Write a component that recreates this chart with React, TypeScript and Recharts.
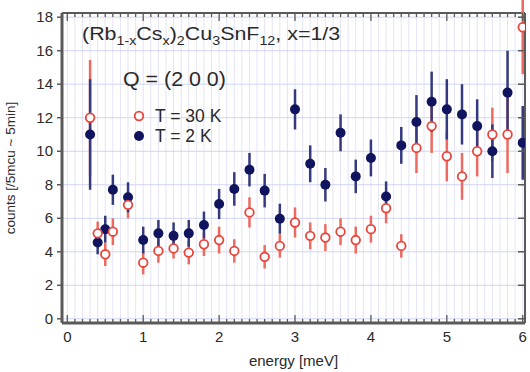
import { ScatterChart, Scatter, XAxis, YAxis, CartesianGrid, ErrorBar, ReferenceLine } from 'recharts';

// energies [meV], same for both temperatures
const energies = [0.3, 0.4, 0.5, 0.6, 0.8, 1.0, 1.2, 1.4, 1.6, 1.8, 2.0, 2.2, 2.4, 2.6, 2.8, 3.0, 3.2, 3.4, 3.6, 3.8, 4.0, 4.2, 4.4, 4.6, 4.8, 5.0, 5.2, 5.4, 5.6, 5.8, 6.0];

// T = 30 K
const counts30 = [12.0, 5.1, 3.85, 5.2, 6.8, 3.35, 4.05, 4.2, 3.95, 4.45, 4.7, 4.05, 6.35, 3.7, 4.35, 5.75, 4.95, 4.85, 5.2, 4.7, 5.35, 6.6, 4.35, 10.2, 11.5, 9.7, 8.5, 10.0, 11.0, 11.0, 17.4];
const err30 = [3.45, 0.7, 0.7, 0.8, 0.8, 0.7, 0.7, 0.6, 0.7, 0.7, 0.8, 0.7, 0.9, 0.7, 0.7, 0.9, 0.8, 0.8, 0.8, 0.8, 0.8, 0.9, 0.7, 1.5, 1.6, 1.5, 1.4, 1.5, 1.6, 2.3, 2.8];

// T = 2 K
const counts2 = [11.0, 4.55, 5.35, 7.7, 7.25, 4.7, 5.1, 4.95, 5.1, 5.6, 6.85, 7.75, 8.9, 7.65, 5.97, 12.5, 9.25, 8.0, 11.1, 8.5, 9.6, 7.3, 10.35, 11.75, 12.95, 12.5, 12.2, 11.5, 10.0, 13.5, 10.5];
const err2 = [3.3, 0.7, 0.8, 0.9, 0.9, 0.8, 0.8, 0.8, 0.8, 0.8, 0.9, 1.0, 1.0, 1.0, 0.9, 1.2, 1.1, 1.0, 1.1, 1.0, 1.1, 0.9, 1.1, 1.6, 1.8, 1.8, 1.8, 1.6, 1.6, 2.5, 2.2];

const xTicks = Array.from({ length: 61 }, (_, i) => i / 10);
const yTicks = [0, 2, 4, 6, 8, 10, 12, 14, 16, 18];

const X_DOMAIN = [-0.07, 6.03];
const Y_DOMAIN = [-0.25, 18.25];

const PLOT_TOP = 13;
const PLOT_BOTTOM = 323;
const PLOT_RIGHT = 525;

const RED = '#e8453c';
const RED_BAR = '#ec6a62';
const BLUE = '#10145e';
const BLUE_BAR = '#353a80';
const AXIS = '#5a5a5a';
const TEXT = '#2a2a2a';
const FONT = '"Liberation Sans", Arial, Helvetica, sans-serif';

const data30 = energies.map((e, i) => ({ e, c: counts30[i], err: err30[i] }));
const data2 = energies.map((e, i) => ({ e, c: counts2[i], err: err2[i] }));

const XTick = (props: any) => {
  const { x, payload } = props;
  const v = Math.round(payload.value * 10) / 10;
  const major = Number.isInteger(v);
  const len = major ? 8 : 4;
  return (
    <g>
      <line x1={x} x2={x} y1={PLOT_BOTTOM} y2={PLOT_BOTTOM - len} stroke={AXIS} strokeWidth={1.3} />
      <line x1={x} x2={x} y1={PLOT_TOP} y2={PLOT_TOP + len} stroke={AXIS} strokeWidth={1.3} />
      {major && (
        <text x={x} y={PLOT_BOTTOM + 19} textAnchor="middle" fontSize={15} fill={TEXT} fontFamily={FONT}>
          {v}
        </text>
      )}
    </g>
  );
};

const YTick = (props: any) => {
  const { x, y, payload } = props;
  return (
    <g>
      <line x1={PLOT_RIGHT} x2={PLOT_RIGHT - 7} y1={y} y2={y} stroke={AXIS} strokeWidth={1.5} />
      <text x={x} y={y + 5} textAnchor="end" fontSize={15} fill={TEXT} fontFamily={FONT}>
        {payload.value}
      </text>
    </g>
  );
};

const OpenDot = (p: any) => (
  <circle cx={p.cx} cy={p.cy} r={4.3} fill="#fff" stroke={RED} strokeWidth={1.8} />
);
const FilledDot = (p: any) => <circle cx={p.cx} cy={p.cy} r={5} fill={BLUE} />;
const NoDot = () => <g />;

const sub = { fontSize: 12 };

const Header = () => (
  <div style={{ fontFamily: FONT, color: TEXT, position: 'absolute', left: 0, top: 0, width: 360, height: 150, pointerEvents: 'none' }}>
    <div style={{ position: 'absolute', left: 82, top: 24, fontSize: 18, whiteSpace: 'nowrap', transform: 'scaleX(1.19)', transformOrigin: 'left' }}>
      (Rb<sub style={sub}>1-x</sub>Cs<sub style={sub}>x</sub>)<sub style={sub}>2</sub>Cu<sub style={sub}>3</sub>SnF<sub style={sub}>12</sub>, x=1/3
    </div>
    <div style={{ position: 'absolute', left: 123, top: 68, fontSize: 20, whiteSpace: 'nowrap', transform: 'scaleX(1.07)', transformOrigin: 'left' }}>
      Q = (2 0 0)
    </div>
    <svg style={{ position: 'absolute', left: 131, top: 106 }} width={16} height={40}>
      <circle cx={8} cy={10} r={4.3} fill="#fff" stroke={RED} strokeWidth={1.8} />
      <circle cx={8} cy={30} r={5} fill={BLUE} />
    </svg>
    <div style={{ position: 'absolute', left: 155, top: 107, fontSize: 17.5, lineHeight: '19px', whiteSpace: 'nowrap' }}>T = 30 K</div>
    <div style={{ position: 'absolute', left: 155, top: 127, fontSize: 17.5, lineHeight: '19px', whiteSpace: 'nowrap' }}>T = 2 K</div>
  </div>
);

export default function App() {
  return (
    <div style={{ position: 'absolute', left: 0, top: 0, width: 530, height: 372, background: '#fff' }}>
      <ScatterChart width={530} height={372} margin={{ top: PLOT_TOP, right: 530 - PLOT_RIGHT, bottom: 0, left: 0 }}>
        <CartesianGrid horizontal={false} stroke="#e4e4f6" strokeWidth={1} />
        <CartesianGrid vertical={false} stroke="#cfd6f2" strokeWidth={1} />
        <XAxis
          type="number"
          dataKey="e"
          domain={X_DOMAIN}
          ticks={xTicks}
          interval={0}
          allowDataOverflow
          height={372 - PLOT_BOTTOM}
          tickLine={false}
          tick={<XTick />}
          axisLine={{ stroke: AXIS, strokeWidth: 3 }}
          label={{ value: 'energy [meV]', position: 'insideBottom', offset: 6, fill: TEXT, fontSize: 15, fontFamily: FONT }}
        />
        <YAxis
          type="number"
          dataKey="c"
          domain={Y_DOMAIN}
          ticks={yTicks}
          interval={0}
          allowDataOverflow
          width={62}
          tickSize={5}
          tickMargin={4}
          tickLine={{ stroke: AXIS, strokeWidth: 1.5 }}
          tick={<YTick />}
          axisLine={{ stroke: AXIS, strokeWidth: 3 }}
          label={{ value: 'counts [/5mcu ~ 5min]', angle: -90, position: 'insideLeft', offset: 10, style: { textAnchor: 'middle' }, fill: TEXT, fontSize: 13.5, fontFamily: FONT }}
        />
        <ReferenceLine y={Y_DOMAIN[1]} stroke={AXIS} strokeWidth={2} />
        <ReferenceLine x={X_DOMAIN[1]} stroke={AXIS} strokeWidth={2} />
        <Scatter data={data30} shape={NoDot} isAnimationActive={false} legendType="none">
          <ErrorBar dataKey="err" direction="y" width={0} stroke={RED_BAR} strokeWidth={2.5} />
        </Scatter>
        <Scatter data={data2} shape={FilledDot} isAnimationActive={false} legendType="none">
          <ErrorBar dataKey="err" direction="y" width={0} stroke={BLUE_BAR} strokeWidth={2.5} />
        </Scatter>
        <Scatter data={data30} shape={OpenDot} isAnimationActive={false} legendType="none" />
      </ScatterChart>
      <Header />
    </div>
  );
}
